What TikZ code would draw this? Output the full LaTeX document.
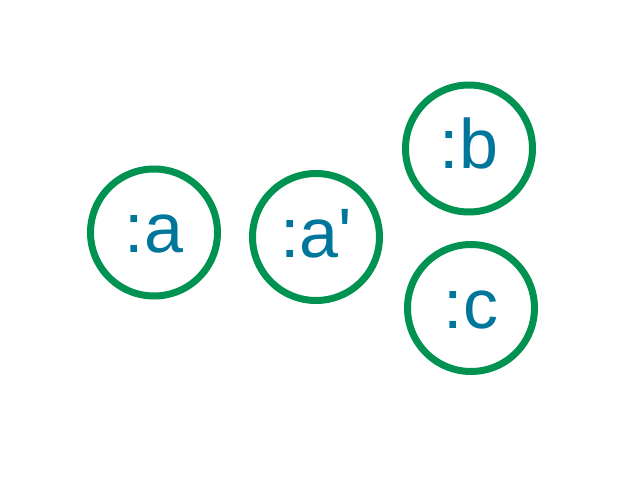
\documentclass[tikz,border=0pt]{standalone}
\usepackage{fontspec}
\setmainfont{Liberation Sans}
\definecolor{ringgreen}{RGB}{0,146,80}
\definecolor{labelblue}{RGB}{0,118,155}
\begin{document}
\begin{tikzpicture}[x=1pt,y=1pt,
  ring/.style={circle,draw=ringgreen,line width=7pt,minimum size=127pt,inner sep=0pt,
    text=labelblue,font=\fontsize{70}{70}\selectfont,text height=41pt,text depth=0pt}]
\useasboundingbox (0,0) rectangle (640,480);
\node[ring] (a)  at (154,247.5) {:a};
\node[ring] (ap) at (316,243) {:a\textquotesingle};
\node[ring] (b)  at (469,331.5) {:b};
\node[ring] (c)  at (471,172) {:c};
\end{tikzpicture}
\end{document}
